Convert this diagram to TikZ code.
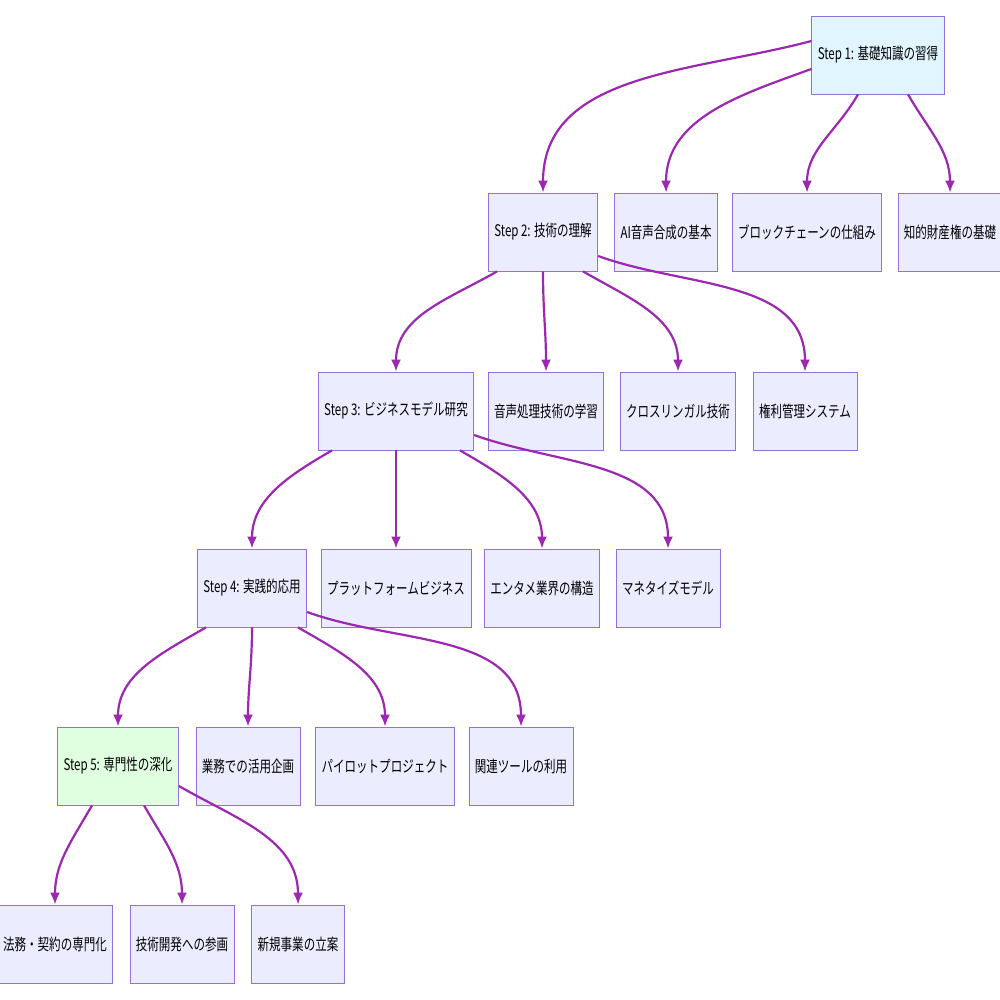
\documentclass[tikz,border=0pt]{standalone}
\usepackage{fontspec}
\newfontfamily\jp[FakeStretch=0.72]{Noto Sans CJK JP}
\usetikzlibrary{arrows.meta}
\definecolor{boxline}{HTML}{9370DB}
\definecolor{boxfill}{HTML}{ECECFF}
\definecolor{stepfill}{HTML}{E1F5FE}
\definecolor{lastfill}{HTML}{E0FFE0}
\definecolor{edge}{HTML}{9C27B0}
\tikzset{
  box/.style={draw=boxline, fill=boxfill, minimum height=39pt, inner xsep=3pt, font=\jp\fontsize{8}{9}\selectfont},
  firstbox/.style={box, fill=stepfill},
  lastbox/.style={box, fill=lastfill},
  link/.style={draw=edge, line width=1.1pt, -{Latex[length=6pt,width=5pt]}}
}
\begin{document}
\begin{tikzpicture}[x=0.5pt,y=-0.5pt]
\useasboundingbox (0,0) rectangle (1000,1000);
% row 1
\node[firstbox, minimum width=57pt] (s1) at (878,55) {Step 1: 基礎知識の習得};
% row 2
\node[box, minimum width=47pt] (s2) at (543,232) {Step 2: 技術の理解};
\node[box, minimum width=44pt] (ai) at (666,232) {AI音声合成の基本};
\node[box, minimum width=65pt] (bc) at (807,232) {ブロックチェーンの仕組み};
\node[box, minimum width=44pt] (ip) at (950,232) {知的財産権の基礎};
% row 3
\node[box, minimum width=65pt] (s3) at (396,411) {Step 3: ビジネスモデル研究};
\node[box, minimum width=50pt] (sp) at (546,411) {音声処理技術の学習};
\node[box, minimum width=50pt] (cl) at (678,411) {クロスリンガル技術};
\node[box, minimum width=44pt] (rm) at (805,411) {権利管理システム};
% row 4
\node[box, minimum width=47pt] (s4) at (252,588) {Step 4: 実践的応用};
\node[box, minimum width=65pt] (pf) at (396,588) {プラットフォームビジネス};
\node[box, minimum width=50pt] (en) at (542,588) {エンタメ業界の構造};
\node[box, minimum width=44pt] (mo) at (668,588) {マネタイズモデル};
% row 5
\node[lastbox, minimum width=52pt] (s5) at (118,766) {Step 5: 専門性の深化};
\node[box, minimum width=45pt] (bu) at (248,766) {業務での活用企画};
\node[box, minimum width=60pt] (pi) at (385,766) {パイロットプロジェクト};
\node[box, minimum width=45pt] (to) at (521,766) {関連ツールの利用};
% row 6
\node[box, minimum width=50pt] (lw) at (55,944) {法務・契約の専門化};
\node[box, minimum width=45pt] (td) at (182,944) {技術開発への参画};
\node[box, minimum width=39pt] (nb) at (298,944) {新規事業の立案};
% edges
\draw[link] ([yshift=7pt]s1.west) to[out=195,in=90] (s2.north);
\draw[link] ([yshift=-7pt]s1.west) to[out=200,in=90] (ai.north);
\draw[link] ([xshift=-10pt]s1.south) to[out=240,in=90] (bc.north);
\draw[link] ([xshift=15pt]s1.south) to[out=300,in=90] (ip.north);
\draw[link] ([xshift=-23pt]s2.south) to[out=210,in=90] (s3.north);
\draw[link] (s2.south) to[out=270,in=90] (sp.north);
\draw[link] ([xshift=20pt]s2.south) to[out=330,in=90] (cl.north);
\draw[link] ([yshift=-12pt]s2.east) to[out=340,in=90] (rm.north);
\draw[link] ([xshift=-32pt]s3.south) to[out=210,in=90] (s4.north);
\draw[link] (s3.south) to[out=270,in=90] (pf.north);
\draw[link] ([xshift=32pt]s3.south) to[out=330,in=90] (en.north);
\draw[link] ([yshift=-12pt]s3.east) to[out=340,in=90] (mo.north);
\draw[link] ([xshift=-23pt]s4.south) to[out=210,in=90] (s5.north);
\draw[link] (s4.south) to[out=270,in=90] (bu.north);
\draw[link] ([xshift=23pt]s4.south) to[out=330,in=90] (pi.north);
\draw[link] ([yshift=-12pt]s4.east) to[out=340,in=90] (to.north);
\draw[link] ([xshift=-13pt]s5.south) to[out=240,in=90] (lw.north);
\draw[link] ([xshift=13pt]s5.south) to[out=300,in=90] (td.north);
\draw[link] ([yshift=-10pt]s5.east) to[out=330,in=90] (nb.north);
\end{tikzpicture}
\end{document}
